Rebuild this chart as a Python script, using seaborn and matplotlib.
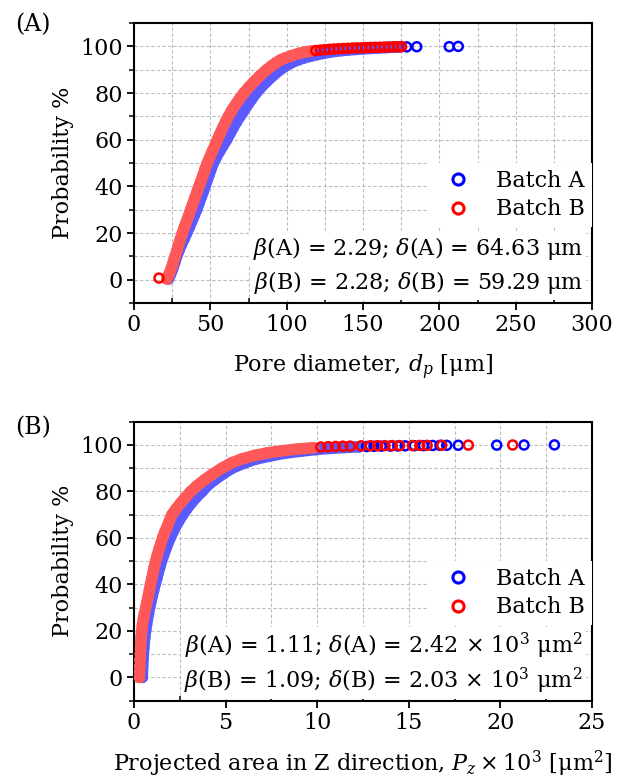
import matplotlib
matplotlib.use("Agg")
import matplotlib.pyplot as plt
from matplotlib.lines import Line2D
from matplotlib.ticker import MultipleLocator
import seaborn as sns

# ---------------------------------------------------------------
# data
# (A) pore diameter d_p [um]  vs  probability [%]
# ---------------------------------------------------------------
pore_A_x = [22.5, 24.0, 25.5, 26.7, 27.9, 29.4, 31.0, 32.8, 34.5, 36.2, 37.8, 39.4,
            41.0, 42.4, 43.8, 45.2, 46.5, 47.8, 49.2, 50.5, 51.9, 53.9, 56.0, 58.3,
            60.7, 62.7, 64.8, 67.0, 69.4, 71.9, 74.5, 77.1, 79.9, 83.2, 87.0, 91.0,
            95.6, 99.0, 103, 107, 111, 115.5, 120, 124, 128, 132, 136, 140, 145, 150,
            155, 160, 165, 170, 174]
pore_A_y = [0.3, 2.5, 5, 7.5, 10, 12.5, 15, 17.5, 20, 22.5, 25, 27.5,
            30, 32.5, 35, 37.5, 40, 42.5, 45, 47.5, 50, 52.5, 55, 57.5,
            60, 62.5, 65, 67.5, 70, 72.5, 75, 77.5, 80, 82.5, 85, 87.5,
            90, 91.5, 93, 94.1, 95, 95.8, 96.5, 97.0, 97.5, 97.9, 98.2, 98.45, 98.7, 98.95,
            99.15, 99.35, 99.5, 99.65, 99.75]
pore_A_tail_x = [178.6, 185.2, 206.5, 212.4]
pore_A_tail_y = [99.8, 99.85, 99.9, 100]

pore_B_x = [21.5, 23.0, 24.5, 25.7, 26.9, 28.1, 29.2, 30.4, 31.7, 33.0, 34.4, 35.8,
            37.1, 38.5, 39.8, 41.2, 42.6, 44.0, 45.3, 46.6, 48.0, 49.6, 51.3, 53.0,
            54.6, 56.3, 58.0, 59.9, 61.8, 64.0, 66.5, 69.1, 72.0, 75.2, 78.8, 82.6,
            86.9, 89.8, 93.0, 96.0, 99.0, 103, 108, 112, 116]
pore_B_y = [0.3, 2.5, 5, 7.5, 10, 12.5, 15, 17.5, 20, 22.5, 25, 27.5,
            30, 32.5, 35, 37.5, 40, 42.5, 45, 47.5, 50, 52.5, 55, 57.5,
            60, 62.5, 65, 67.5, 70, 72.5, 75, 77.5, 80, 82.5, 85, 87.5,
            90, 91.5, 93, 94.2, 95, 96, 97, 97.6, 98.0]
pore_B_tail_x = [16.4, 119, 122, 125, 128, 131, 134, 137, 140, 143, 146, 149, 152,
                 155, 158, 161, 164, 167, 170, 173, 175.3]
pore_B_tail_y = [0.7, 98.2, 98.4, 98.6, 98.75, 98.9, 99.0, 99.1, 99.2, 99.3, 99.35,
                 99.4, 99.5, 99.55, 99.6, 99.65, 99.7, 99.75, 99.8, 99.85, 99.9]

# (B) projected area in Z, P_z x 10^3 [um^2]  vs  probability [%]
area_A_x = [0.45, 0.46, 0.47, 0.49, 0.51, 0.53, 0.56, 0.59, 0.63, 0.68, 0.73, 0.79,
            0.85, 0.92, 0.99, 1.07, 1.15, 1.24, 1.32, 1.41, 1.50, 1.61, 1.72, 1.84,
            1.97, 2.12, 2.28, 2.46, 2.66, 2.88, 3.12, 3.40, 3.72, 4.0, 4.4, 4.85,
            5.35, 5.95, 6.6, 7.4, 8.2, 9.1, 9.9, 10.7, 11.5, 12.3]
area_A_y = [0, 2.5, 5, 7.5, 10, 12.5, 15, 17.5, 20, 22.5, 25, 27.5,
            30, 32.5, 35, 37.5, 40, 42.5, 45, 47.5, 50, 52.5, 55, 57.5,
            60, 62.5, 65, 67.5, 70, 72.5, 75, 77.5, 80, 82.5, 85, 87.5,
            90, 92, 93.8, 95.2, 96.4, 97.3, 98.0, 98.5, 98.9, 99.2]
area_A_tail_x = [12.7, 13.1, 13.5, 14.0, 14.4, 14.8, 15.3, 15.8, 16.3, 16.7, 17.07,
                 17.7, 19.8, 21.29, 22.95]
area_A_tail_y = [99.3, 99.4, 99.45, 99.5, 99.55, 99.6, 99.65, 99.7, 99.75, 99.8, 99.82,
                 99.85, 99.9, 99.95, 100]

area_B_x = [0.29, 0.30, 0.31, 0.32, 0.34, 0.35, 0.37, 0.39, 0.42, 0.46, 0.51, 0.57,
            0.64, 0.71, 0.78, 0.84, 0.90, 0.97, 1.04, 1.11, 1.18, 1.27, 1.36, 1.46,
            1.56, 1.68, 1.82, 1.94, 2.07, 2.30, 2.55, 2.82, 3.1, 3.45, 3.85, 4.3,
            4.8, 5.3, 5.9, 6.6, 7.3, 8.1, 8.9, 9.8]
area_B_y = [0, 2.5, 5, 7.5, 10, 12.5, 15, 17.5, 20, 22.5, 25, 27.5,
            30, 32.5, 35, 37.5, 40, 42.5, 45, 47.5, 50, 52.5, 55, 57.5,
            60, 62.5, 65, 67.5, 70, 72.5, 75, 77.5, 80, 82.5, 85, 87.5,
            90, 92.2, 94.0, 95.5, 96.6, 97.5, 98.2, 98.8]
area_B_tail_x = [10.2, 10.6, 11.0, 11.4, 11.8, 12.4, 12.9, 13.3, 13.7, 14.1, 14.5,
                 15.2, 15.6, 16.0, 16.8, 18.25, 20.67]
area_B_tail_y = [99.1, 99.25, 99.35, 99.45, 99.5, 99.6, 99.62, 99.65, 99.68, 99.7,
                 99.72, 99.75, 99.78, 99.8, 99.85, 99.9, 99.95]

BLUE, RED = "#0000ff", "#ff0000"
BLUE_BAND, RED_BAND = "#5a5aff", "#ff5858"
RING_S, RING_LW = 42, 1.8
BAND_LW = 8.3
FS = 16

sns.set_theme(style="ticks")
plt.rcParams["font.family"] = ["DejaVu Serif"]
plt.rcParams["mathtext.fontset"] = "dejavuserif"
for k in ["text.color", "axes.labelcolor", "xtick.color", "ytick.color"]:
    plt.rcParams[k] = "black"


def draw_series(ax, x, y, tx, ty, band, ring, z):
    # dense part: overlapping circles -> thick band
    sns.lineplot(x=x, y=y, sort=False, estimator=None, color=band, lw=BAND_LW,
                 solid_capstyle="round", solid_joinstyle="round", zorder=z, ax=ax,
                 legend=False)
    sns.scatterplot(x=x, y=y, color=band, facecolor="none", edgecolor=band,
                    s=RING_S, linewidth=RING_LW, zorder=z + 0.1, ax=ax, legend=False)
    # sparse part: single open circles
    sns.scatterplot(x=tx, y=ty, color=ring, facecolor="none", edgecolor=ring,
                    s=RING_S, linewidth=RING_LW, zorder=z + 0.2, ax=ax, legend=False)


def style_axes(ax, xmax, xmaj, xmin):
    ax.set_xlim(0, xmax)
    ax.set_ylim(-10, 110)
    ax.xaxis.set_major_locator(MultipleLocator(xmaj))
    ax.xaxis.set_minor_locator(MultipleLocator(xmin))
    ax.yaxis.set_major_locator(MultipleLocator(20))
    ax.yaxis.set_minor_locator(MultipleLocator(10))
    ax.grid(which="both", color="#bcbcbc", ls=(0, (3, 2)), lw=0.8)
    ax.set_axisbelow(True)
    for s in ax.spines.values():
        s.set_visible(True)
        s.set_linewidth(1.5)
        s.set_color("black")
    ax.tick_params(which="major", direction="out", length=5, width=1.3,
                   labelsize=FS, pad=3, colors="black")
    ax.tick_params(axis="x", which="minor", direction="in", length=3.5, width=1.1)
    ax.tick_params(axis="y", which="minor", direction="out", length=3.5, width=1.1)
    ax.set_ylabel("Probability %", fontsize=FS)
    ax.yaxis.set_label_coords(-0.13, 0.5)


def add_legend_and_text(ax, line1, line2):
    handles = [Line2D([], [], ls="none", marker="o", ms=8, mfc="none", mec=c, mew=2.2,
                      label=l) for c, l in [(BLUE, "Batch A"), (RED, "Batch B")]]
    leg = ax.legend(handles=handles, loc="upper right", bbox_to_anchor=(1.0, 0.5),
                    borderaxespad=0, frameon=True, fancybox=False, framealpha=1,
                    facecolor="white", edgecolor="none", fontsize=FS, handlelength=2,
                    handletextpad=0.75, borderpad=0.3, labelspacing=0.3)
    leg.set_zorder(5)
    for yy, t in [(0.196, line1), (0.072, line2)]:
        ax.text(0.98, yy, t, transform=ax.transAxes, ha="right", va="center",
                fontsize=FS, zorder=6, bbox=dict(fc="white", ec="none", pad=2.5))


fig = plt.figure(figsize=(6.25, 7.82), dpi=100)
ax1 = fig.add_axes([0.2144, 0.6125, 0.7328, 0.358])
ax2 = fig.add_axes([0.2144, 0.1040, 0.7328, 0.3568])

# ---- (A) pore diameter
draw_series(ax1, pore_A_x, pore_A_y, pore_A_tail_x, pore_A_tail_y, BLUE_BAND, BLUE, 2.0)
draw_series(ax1, pore_B_x, pore_B_y, pore_B_tail_x, pore_B_tail_y, RED_BAND, RED, 2.5)
style_axes(ax1, 300, 50, 25)
ax1.set_xlabel(r"Pore diameter, $d_p$ [μm]", fontsize=FS)
ax1.xaxis.set_label_coords(0.5, -0.178)
add_legend_and_text(ax1,
                    r"$\beta$(A) = 2.29; $\delta$(A) = 64.63 μm",
                    r"$\beta$(B) = 2.28; $\delta$(B) = 59.29 μm")

# ---- (B) projected area
draw_series(ax2, area_A_x, area_A_y, area_A_tail_x, area_A_tail_y, BLUE_BAND, BLUE, 2.0)
draw_series(ax2, area_B_x, area_B_y, area_B_tail_x, area_B_tail_y, RED_BAND, RED, 2.5)
style_axes(ax2, 25, 5, 2.5)
ax2.set_xlabel(r"Projected area in Z direction, $P_z \times 10^3$ [μm$^2$]", fontsize=FS)
ax2.xaxis.set_label_coords(0.5, -0.172)
add_legend_and_text(ax2,
                    r"$\beta$(A) = 1.11; $\delta$(A) = 2.42 $\times$ 10$^3$ μm$^2$",
                    r"$\beta$(B) = 1.09; $\delta$(B) = 2.03 $\times$ 10$^3$ μm$^2$")

fig.text(15 / 625, 1 - 25 / 782, "(A)", fontsize=17, ha="left", va="center")
fig.text(15 / 625, 1 - 428 / 782, "(B)", fontsize=17, ha="left", va="center")

fig.savefig("out.png", dpi=100)
